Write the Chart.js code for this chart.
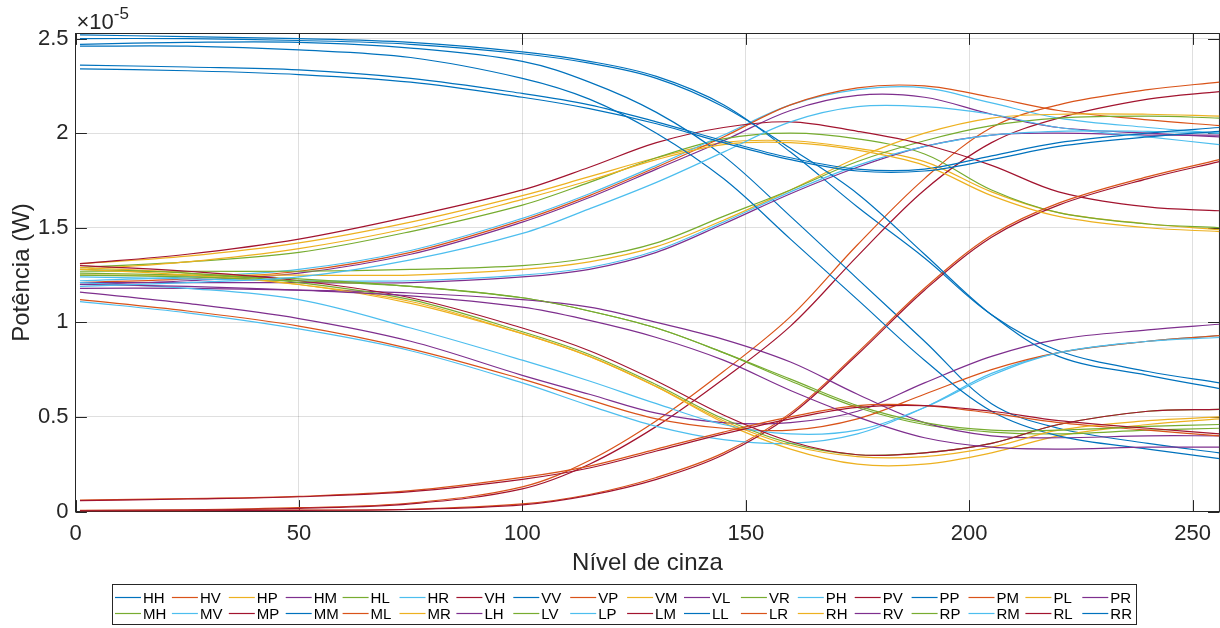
<!DOCTYPE html>
<html>
<head>
<meta charset="utf-8">
<title>Potência por nível de cinza</title>
<script src="https://cdn.jsdelivr.net/npm/chart.js@4/dist/chart.umd.min.js"></script>
<style>
  html, body { margin: 0; padding: 0; background: #fff; }
  #wrap { position: relative; width: 1220px; height: 628px; }
</style>
</head>
<body>
<div id="wrap"><canvas id="chart" width="1220" height="628"></canvas></div>
<script>
// gray levels where the curves are sampled
const grayLevels = [1, 25, 50, 75, 100, 115, 130, 145, 160, 175, 190, 205, 220, 240, 256];

// measured power, in units of 1e-5 W
const HH = [2.52, 2.51, 2.50, 2.48, 2.43, 2.38, 2.30, 2.15, 1.90, 1.61, 1.34, 1.04, 0.85, 0.74, 0.68];
const HV = [0.006, 0.009, 0.02, 0.045, 0.13, 0.27, 0.48, 0.74, 1.03, 1.41, 1.76, 2.03, 2.15, 2.23, 2.27];
const HP = [1.31, 1.35, 1.42, 1.53, 1.67, 1.77, 1.87, 1.95, 1.96, 1.92, 1.85, 1.69, 1.58, 1.52, 1.49];
const HM = [1.20, 1.22, 1.26, 1.36, 1.53, 1.66, 1.81, 1.96, 2.12, 2.20, 2.19, 2.10, 2.03, 2.00, 1.98];
const HL = [1.29, 1.32, 1.37, 1.48, 1.62, 1.74, 1.87, 1.97, 2.00, 1.97, 1.89, 1.70, 1.58, 1.52, 1.50];
const HR = [1.22, 1.24, 1.28, 1.38, 1.55, 1.68, 1.83, 1.99, 2.15, 2.23, 2.24, 2.16, 2.08, 2.03, 2.00];
const VH = [0.005, 0.008, 0.017, 0.04, 0.12, 0.25, 0.45, 0.70, 0.98, 1.35, 1.70, 1.95, 2.08, 2.18, 2.22];
const VV = [2.47, 2.48, 2.48, 2.45, 2.38, 2.27, 2.11, 1.88, 1.56, 1.23, 0.90, 0.57, 0.44, 0.36, 0.31];
const VP = [1.21, 1.23, 1.27, 1.37, 1.54, 1.67, 1.82, 1.98, 2.15, 2.24, 2.25, 2.19, 2.12, 2.07, 2.04];
const VM = [1.25, 1.25, 1.25, 1.25, 1.28, 1.32, 1.40, 1.54, 1.70, 1.87, 2.00, 2.08, 2.10, 2.10, 2.09];
const VL = [1.21, 1.21, 1.21, 1.21, 1.24, 1.28, 1.37, 1.52, 1.68, 1.82, 1.93, 1.99, 2.00, 1.99, 1.99];
const VR = [1.27, 1.27, 1.27, 1.28, 1.30, 1.34, 1.42, 1.56, 1.70, 1.85, 1.96, 2.04, 2.08, 2.09, 2.08];
const PH = [1.24, 1.23, 1.22, 1.22, 1.25, 1.29, 1.38, 1.53, 1.69, 1.83, 1.93, 1.99, 2.01, 2.01, 2.00];
const PV = [1.31, 1.36, 1.44, 1.56, 1.70, 1.82, 1.95, 2.03, 2.06, 2.01, 1.94, 1.83, 1.69, 1.61, 1.59];
const PP = [2.36, 2.35, 2.335, 2.29, 2.21, 2.15, 2.06, 1.96, 1.87, 1.81, 1.81, 1.88, 1.95, 2.00, 2.03];
const PM = [0.004, 0.005, 0.007, 0.012, 0.04, 0.09, 0.18, 0.31, 0.52, 0.84, 1.18, 1.46, 1.63, 1.77, 1.86];
const PL = [1.29, 1.26, 1.20, 1.11, 0.94, 0.82, 0.66, 0.47, 0.33, 0.25, 0.25, 0.31, 0.40, 0.46, 0.49];
const PR = [1.16, 1.10, 1.02, 0.90, 0.72, 0.62, 0.52, 0.47, 0.47, 0.53, 0.68, 0.82, 0.91, 0.96, 0.99];
const MH = [1.26, 1.25, 1.23, 1.19, 1.13, 1.06, 0.97, 0.84, 0.69, 0.55, 0.46, 0.42, 0.41, 0.43, 0.44];
const MV = [1.11, 1.05, 0.965, 0.85, 0.68, 0.56, 0.45, 0.38, 0.36, 0.41, 0.55, 0.73, 0.84, 0.90, 0.93];
const MP = [0.003, 0.004, 0.006, 0.011, 0.035, 0.085, 0.17, 0.30, 0.51, 0.83, 1.17, 1.45, 1.62, 1.76, 1.85];
const MM = [2.50, 2.50, 2.49, 2.47, 2.42, 2.37, 2.29, 2.14, 1.92, 1.68, 1.36, 1.04, 0.82, 0.72, 0.65];
const ML = [1.12, 1.06, 0.98, 0.86, 0.70, 0.59, 0.49, 0.44, 0.43, 0.49, 0.62, 0.75, 0.84, 0.90, 0.93];
const MR = [1.28, 1.32, 1.39, 1.50, 1.65, 1.75, 1.86, 1.94, 1.95, 1.91, 1.83, 1.67, 1.56, 1.50, 1.48];
const LH = [1.18, 1.18, 1.17, 1.155, 1.12, 1.08, 1.00, 0.91, 0.79, 0.62, 0.47, 0.40, 0.39, 0.40, 0.40];
const LV = [1.28, 1.26, 1.21, 1.12, 0.95, 0.83, 0.67, 0.49, 0.36, 0.30, 0.31, 0.36, 0.46, 0.53, 0.54];
const LP = [1.21, 1.18, 1.12, 0.97, 0.80, 0.69, 0.57, 0.46, 0.41, 0.43, 0.55, 0.72, 0.84, 0.90, 0.92];
const LM = [1.30, 1.27, 1.22, 1.13, 0.97, 0.85, 0.69, 0.51, 0.37, 0.30, 0.31, 0.36, 0.46, 0.53, 0.54];
const LL = [2.46, 2.46, 2.44, 2.40, 2.29, 2.18, 2.00, 1.76, 1.44, 1.12, 0.80, 0.53, 0.40, 0.33, 0.28];
const LR = [0.06, 0.068, 0.08, 0.11, 0.18, 0.24, 0.33, 0.42, 0.50, 0.56, 0.56, 0.52, 0.47, 0.43, 0.40];
const RH = [1.28, 1.25, 1.20, 1.10, 0.94, 0.82, 0.66, 0.48, 0.35, 0.29, 0.29, 0.34, 0.43, 0.48, 0.50];
const RV = [1.20, 1.19, 1.17, 1.14, 1.08, 1.01, 0.92, 0.80, 0.64, 0.50, 0.39, 0.34, 0.33, 0.34, 0.34];
const RP = [1.25, 1.24, 1.22, 1.19, 1.13, 1.06, 0.97, 0.84, 0.70, 0.56, 0.47, 0.43, 0.43, 0.45, 0.46];
const RM = [1.19, 1.21, 1.24, 1.33, 1.47, 1.60, 1.74, 1.90, 2.06, 2.14, 2.14, 2.10, 2.03, 1.98, 1.94];
const RL = [0.058, 0.066, 0.078, 0.105, 0.17, 0.23, 0.32, 0.41, 0.49, 0.55, 0.56, 0.53, 0.48, 0.44, 0.41];
const RR = [2.34, 2.33, 2.31, 2.27, 2.19, 2.13, 2.05, 1.95, 1.86, 1.80, 1.80, 1.86, 1.93, 1.98, 2.01];

const seriesNames = ['HH', 'HV', 'HP', 'HM', 'HL', 'HR', 'VH', 'VV', 'VP', 'VM', 'VL', 'VR',
                     'PH', 'PV', 'PP', 'PM', 'PL', 'PR', 'MH', 'MV', 'MP', 'MM', 'ML', 'MR',
                     'LH', 'LV', 'LP', 'LM', 'LL', 'LR', 'RH', 'RV', 'RP', 'RM', 'RL', 'RR'];
const seriesValues = [HH, HV, HP, HM, HL, HR, VH, VV, VP, VM, VL, VR,
                      PH, PV, PP, PM, PL, PR, MH, MV, MP, MM, ML, MR,
                      LH, LV, LP, LM, LL, LR, RH, RV, RP, RM, RL, RR];

const xTicks = [0, 50, 100, 150, 200, 250];
const yTicks = [0, 0.5, 1, 1.5, 2, 2.5];
const yTickLabels = ['0', '0.5', '1', '1.5', '2', '2.5'];

// default line colour order, cycled
const palette = ['#0072BD', '#D95319', '#EDB120', '#7E2F8E', '#77AC30', '#4DBEEE', '#A2142F'];

const AXIS_COLOR = '#262626';
const GRID_COLOR = 'rgba(38,38,38,0.15)';
const FONT = '"Liberation Sans", Arial, Helvetica, sans-serif';
const TICK_LEN = 11.4;

const datasets = seriesNames.map((name, i) => ({
    label: name,
    data: grayLevels.map((g, k) => ({ x: g, y: seriesValues[i][k] })),
    borderColor: palette[i % palette.length],
    borderWidth: 1.2,
    pointRadius: 0,
    fill: false,
    tension: 0.35,
    order: -i // later series on top
}));

// inward tick marks and the axes box
const axesBox = {
    id: 'axesBox',
    beforeDatasetsDraw(chart) {
        const { ctx, chartArea: a, scales: { x, y } } = chart;
        ctx.save();
        ctx.strokeStyle = AXIS_COLOR;
        ctx.lineWidth = 1;
        ctx.beginPath();
        xTicks.forEach(v => {
            const px = Math.round(x.getPixelForValue(v)) + 0.5;
            ctx.moveTo(px, a.bottom); ctx.lineTo(px, a.bottom - TICK_LEN);
            ctx.moveTo(px, a.top); ctx.lineTo(px, a.top + TICK_LEN);
        });
        yTicks.forEach(v => {
            const py = Math.round(y.getPixelForValue(v)) + 0.5;
            ctx.moveTo(a.left, py); ctx.lineTo(a.left + TICK_LEN, py);
            ctx.moveTo(a.right, py); ctx.lineTo(a.right - TICK_LEN, py);
        });
        ctx.stroke();
        ctx.strokeRect(a.left, a.top, a.right - a.left, a.bottom - a.top);
        ctx.restore();
    },
    afterDraw(chart) {
        const { ctx, chartArea: a } = chart;
        ctx.save();
        // exponent of the y axis
        ctx.fillStyle = AXIS_COLOR;
        ctx.textBaseline = 'alphabetic';
        ctx.font = '22px ' + FONT;
        ctx.fillText('\u00d710', a.left + 1, 29);
        const w = ctx.measureText('\u00d710').width;
        ctx.font = '17px ' + FONT;
        ctx.fillText('-5', a.left + 1 + w, 19);

        // two-row legend below the axes
        ctx.strokeStyle = AXIS_COLOR;
        ctx.lineWidth = 1;
        ctx.strokeRect(112.5, 584.5, 1024, 40);
        ctx.font = '15px ' + FONT;
        ctx.textBaseline = 'middle';
        chart.data.datasets.forEach((ds, i) => {
            const row = Math.floor(i / 18);
            const col = i % 18;
            const x0 = 115 + col * 56.9;
            const y0 = row === 0 ? 597.5 : 613.5;
            ctx.strokeStyle = ds.borderColor;
            ctx.lineWidth = 1.2;
            ctx.beginPath();
            ctx.moveTo(x0, y0);
            ctx.lineTo(x0 + 26, y0);
            ctx.stroke();
            ctx.fillStyle = '#000';
            ctx.fillText(ds.label, x0 + 28, y0 + 1);
        });
        ctx.restore();
    }
};

new Chart(document.getElementById('chart'), {
    type: 'line',
    data: { datasets },
    plugins: [axesBox],
    options: {
        responsive: false,
        animation: false,
        devicePixelRatio: 1,
        layout: { padding: { top: 33.5, right: 0.5, left: 0, bottom: 50.5 } },
        plugins: { legend: { display: false }, tooltip: { enabled: false } },
        scales: {
            x: {
                type: 'linear',
                min: 0,
                max: 256,
                afterBuildTicks: s => { s.ticks = xTicks.map(v => ({ value: v })); },
                afterFit: s => { s.height = 66; },
                grid: { color: GRID_COLOR, drawTicks: false },
                border: { display: false },
                ticks: { color: AXIS_COLOR, font: { family: FONT, size: 22 }, padding: 9, maxRotation: 0 },
                title: {
                    display: true,
                    text: 'Nível de cinza',
                    color: AXIS_COLOR,
                    font: { family: FONT, size: 24 },
                    padding: { top: 0, bottom: 0 }
                }
            },
            y: {
                type: 'linear',
                min: 0,
                max: 2.527,
                afterBuildTicks: s => { s.ticks = yTicks.map(v => ({ value: v })); },
                afterFit: s => { s.width = 75.5; },
                grid: { color: GRID_COLOR, drawTicks: false },
                border: { display: false },
                ticks: {
                    color: AXIS_COLOR,
                    font: { family: FONT, size: 22 },
                    padding: 7,
                    callback: (v) => yTickLabels[yTicks.indexOf(v)]
                },
                title: {
                    display: true,
                    text: 'Potência (W)',
                    color: AXIS_COLOR,
                    font: { family: FONT, size: 24 },
                    padding: { top: 7.6, bottom: 0 }
                }
            }
        }
    }
});
</script>
</body>
</html>
